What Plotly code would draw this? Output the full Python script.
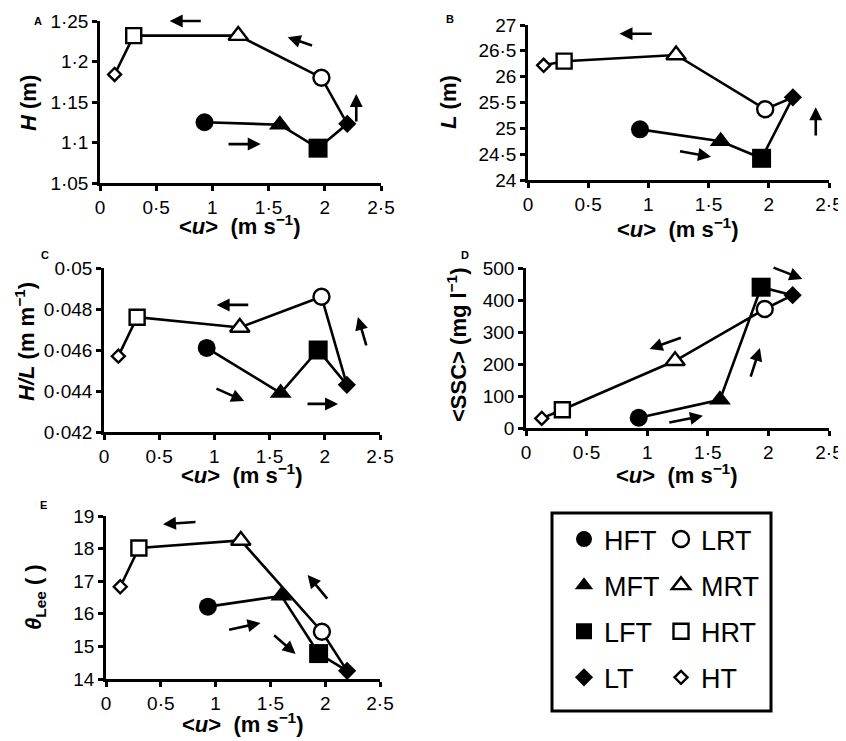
import plotly.graph_objects as go

# ---------------- data ----------------
conditions = ["HFT", "MFT", "LFT", "LT", "LRT", "MRT", "HRT", "HT"]
u_mean = [0.93, 1.60, 1.94, 2.20, 1.97, 1.23, 0.30, 0.13]
wave_H = [1.125, 1.122, 1.093, 1.123, 1.180, 1.232, 1.232, 1.184]
wave_L = [24.98, 24.75, 24.42, 25.60, 25.37, 26.42, 26.30, 26.22]
steep_HL = [0.0461, 0.0439, 0.0460, 0.0443, 0.0486, 0.0471, 0.0476, 0.0457]
ssc = [32, 88, 440, 415, 372, 210, 57, 30]
theta_lee = [16.22, 16.55, 14.78, 14.25, 15.45, 18.25, 18.02, 16.83]

x_ticks = [0, 0.5, 1, 1.5, 2, 2.5]
x_ticktext = ["0", "0·5", "1", "1·5", "2", "2·5"]
H_ticks = [1.05, 1.1, 1.15, 1.2, 1.25]
H_ticktext = ["1·05", "1·1", "1·15", "1·2", "1·25"]
L_ticks = [24, 24.5, 25, 25.5, 26, 26.5, 27]
L_ticktext = ["24", "24·5", "25", "25·5", "26", "26·5", "27"]
HL_ticks = [0.042, 0.044, 0.046, 0.048, 0.05]
HL_ticktext = ["0·042", "0·044", "0·046", "0·048", "0·05"]
SSC_ticks = [0, 100, 200, 300, 400, 500]
SSC_ticktext = ["0", "100", "200", "300", "400", "500"]
TH_ticks = [14, 15, 16, 17, 18, 19]
TH_ticktext = ["14", "15", "16", "17", "18", "19"]

# direction arrows per panel: (x_tail, y_tail, x_head, y_head)
arrows_A = [(0.91, 1.25, 0.62, 1.25), (1.90, 1.219, 1.67, 1.230),
            (2.28, 1.124, 2.28, 1.160), (1.13, 1.098, 1.43, 1.098)]
arrows_B = [(1.04, 26.83, 0.76, 26.83), (2.39, 24.83, 2.39, 25.41),
            (1.25, 24.56, 1.52, 24.45)]
arrows_C = [(1.32, 0.0482, 1.02, 0.0482), (2.38, 0.04615, 2.30, 0.04761),
            (1.005, 0.04415, 1.27, 0.04351), (1.83, 0.04337, 2.12, 0.04337)]
arrows_D = [(2.03, 503, 2.28, 466), (1.29, 284, 1.02, 247),
            (1.85, 156, 1.93, 250), (1.17, 16, 1.46, 38)]
arrows_E = [(0.83, 18.82, 0.52, 18.75), (2.03, 16.42, 1.84, 17.19),
            (1.11, 15.50, 1.41, 15.72), (1.52, 15.38, 1.73, 14.77)]

x_title = "<b><<i>u</i>>  (m s<sup>−1</sup>)</b>"
y_titles = ["<b><i>H</i> (m)</b>", "<b><i>L</i> (m)</b>",
            "<b><i>H/L</i> (m m<sup>−1</sup>)</b>",
            "<b><SSC> (mg l<sup>−1</sup>)</b>",
            "<b><i>θ</i><sub>Lee</sub> ( )</b>"]
panel_labels = ["A", "B", "C", "D", "E"]

# ---------------- style / layout ----------------
FONT = "Liberation Sans, Arial, sans-serif"
symbols = ["circle", "triangle-up", "square", "diamond",
           "circle", "triangle-up", "square", "diamond"]
filled = [True, True, True, True, False, False, False, False]
msizes = [18, 19, 19, 14, 16, 17, 15, 10]

W, Hh, OFF = 838, 733, 8   # page body margin offset of 8 px


def px(X):
    return (X - OFF) / W


def py(Y):
    return 1 - (Y - OFF) / Hh


panels = [
    # xaxis, yaxis, values, ticks, ticktext, range, arrows, plot box, label pos, xtitle pos, ytitle pos
    ("x", "y", wave_H, H_ticks, H_ticktext, [1.05, 1.25], arrows_A,
     [100, 381, 21, 183], (38, 21), (240, 225), (28, 103)),
    ("x2", "y2", wave_L, L_ticks, L_ticktext, [24, 27], arrows_B,
     [528, 829, 25, 180], (450, 19), (678, 228), (448, 102)),
    ("x3", "y3", steep_HL, HL_ticks, HL_ticktext, [0.042, 0.05], arrows_C,
     [104, 380, 268, 432], (45, 255), (242, 474), (25, 342)),
    ("x4", "y4", ssc, SSC_ticks, SSC_ticktext, [0, 500], arrows_D,
     [526, 829, 268, 428], (465, 255), (677, 474), (457, 345)),
    ("x5", "y5", theta_lee, TH_ticks, TH_ticktext, [14, 19], arrows_E,
     [106, 380, 516, 679], (43, 505), (243, 723), (35, 597)),
]

fig = go.Figure()
annotations = []
for pi, (xa, ya, yvals, yt, ytt, yr, arrows, box, labpos, xtp, ytp) in enumerate(panels):
    fig.add_trace(go.Scatter(x=u_mean, y=yvals, mode="lines", xaxis=xa, yaxis=ya,
                             line=dict(color="black", width=2.6), showlegend=False,
                             hoverinfo="skip", cliponaxis=False))
    for i, c in enumerate(conditions):
        fig.add_trace(go.Scatter(
            x=[u_mean[i]], y=[yvals[i]], mode="markers", xaxis=xa, yaxis=ya,
            name=c, showlegend=(pi == 0), legendgroup=c,
            legend="legend" if i < 4 else "legend2",
            cliponaxis=False,
            marker=dict(symbol=symbols[i], size=msizes[i],
                        color="black" if filled[i] else "white",
                        line=dict(color="black", width=2.4 if not filled[i] else 0))))
    x0, x1, y0, y1 = box
    axn = "" if pi == 0 else str(pi + 1)
    common = dict(ticks="outside", ticklen=5, tickwidth=2.5, tickcolor="black",
                  showline=True, linecolor="black", linewidth=2.5, showgrid=False,
                  zeroline=False, automargin=False,
                  tickfont=dict(family=FONT, size=19, color="black"))
    fig.layout["xaxis" + axn] = dict(domain=[px(x0), px(x1)], anchor=ya, range=[0, 2.5],
                                     tickvals=x_ticks, ticktext=x_ticktext, **common)
    fig.layout["yaxis" + axn] = dict(domain=[py(y1), py(y0)], anchor=xa, range=yr,
                                     tickvals=yt, ticktext=ytt, **common)
    for (xt, ytl, xh, yh) in arrows:
        annotations.append(dict(
            x=xh, y=yh, ax=xt, ay=ytl, xref=xa, yref=ya, axref=xa, ayref=ya,
            text="", showarrow=True, arrowhead=2, arrowsize=1.0, arrowwidth=2.6,
            arrowcolor="black"))
    annotations.append(dict(
        x=px(labpos[0]), y=py(labpos[1]), xref="paper", yref="paper",
        xanchor="center", yanchor="middle",
        text="<b>" + panel_labels[pi] + "</b>", showarrow=False,
        font=dict(family=FONT, size=11, color="black")))
    annotations.append(dict(
        x=px(xtp[0]), y=py(xtp[1]), xref="paper", yref="paper",
        xanchor="center", yanchor="middle", text=x_title, showarrow=False,
        font=dict(family=FONT, size=22, color="black")))
    annotations.append(dict(
        x=px(ytp[0]), y=py(ytp[1]), xref="paper", yref="paper",
        xanchor="center", yanchor="middle", text=y_titles[pi], textangle=-90,
        showarrow=False, font=dict(family=FONT, size=22, color="black")))

fig.update_layout(
    width=W, height=Hh, margin=dict(l=0, r=0, t=0, b=0, autoexpand=False),
    paper_bgcolor="white", plot_bgcolor="white",
    annotations=annotations,
    legend=dict(x=px(564), y=py(515), xanchor="left", yanchor="top",
                font=dict(family=FONT, size=27, color="black"),
                tracegroupgap=8, itemsizing="trace", bgcolor="rgba(0,0,0,0)"),
    legend2=dict(x=px(661), y=py(515), xanchor="left", yanchor="top",
                 font=dict(family=FONT, size=27, color="black"),
                 tracegroupgap=8, itemsizing="trace", bgcolor="rgba(0,0,0,0)"),
    shapes=[dict(type="rect", xref="paper", yref="paper",
                 x0=px(552), x1=px(771), y0=py(711), y1=py(513),
                 line=dict(color="black", width=3))],
)

fig.write_html("out.html")
